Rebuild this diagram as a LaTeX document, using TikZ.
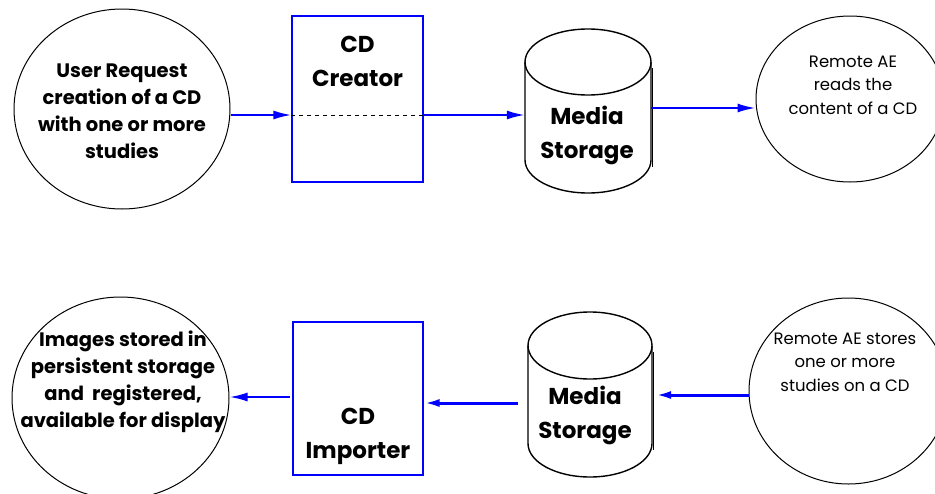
\documentclass[tikz,border=0pt]{standalone}
\usepackage{fontspec}
\setmainfont{Poppins}
\usetikzlibrary{shapes.geometric,arrows.meta}
\begin{document}
\begin{tikzpicture}[x=1pt,y=-1pt,
  oval/.style={ellipse,draw=black,line width=1pt,inner sep=0pt},
  procbox/.style={rectangle,draw=blue,line width=1.3pt,inner sep=0pt},
  holder/.style={rectangle,inner sep=0pt},
  cyl/.style={draw=black,line width=1.4pt},
  ovaltxt/.style={align=center,font=\bfseries\fontsize{19.5}{27}\selectfont},
  bigtxt/.style={align=center,font=\bfseries\fontsize{23}{34}\selectfont},
  thintxt/.style={align=center,font=\fontsize{16.5}{23.5}\selectfont},
  flow/.style={draw=blue,line width=2pt,-{Latex[length=18pt,width=9pt]}},
  heavyflow/.style={draw=blue,line width=3pt,-{Latex[length=16pt,width=8pt]}},
]
\useasboundingbox (0,0) rectangle (935,493);

% ---- top row ----
\node[oval,minimum width=216pt,minimum height=200pt] (ureq) at (122,109) {};
\node[ovaltxt] (ureqt) at (122,111) {User Request\\creation of a CD\\with one or more\\studies};

\node[procbox,minimum width=131pt,minimum height=166pt] (creator) at (357.5,99) {};
\node[bigtxt] (creatort) at (357.5,61.5) {CD\\Creator};

\node[holder,minimum width=126pt,minimum height=164pt] (ms1) at (588,111) {};
\draw[cyl] (525,62) -- (525,160) arc[start angle=180,end angle=360,x radius=63pt,y radius=33pt] -- (651,62);
\draw[cyl] (588,62) ellipse [x radius=63pt,y radius=33pt];
\draw[cyl,line width=1.8pt] (652.5,68) -- (652.5,167);
\node[bigtxt] (ms1t) at (587,135) {Media\\Storage};

\node[oval,minimum width=188pt,minimum height=166pt] (rread) at (850,99) {};
\node[thintxt] (rreadt) at (853,85) {Remote AE\\reads the\\content of a CD};

\coordinate (ya) at (0,115);
\coordinate (yb) at (0,108);
\draw[flow] (ureq.east |- ya) -- (creator.west |- ya);
\draw[black,line width=1pt,dashed,dash pattern=on 4pt off 4pt] (creator.west |- ya) -- (creator.east |- ya);
\draw[flow] (creator.east |- ya) -- (ms1.west |- ya);
\draw[flow] (ms1.east |- yb) -- (rread.west |- yb);

% ---- bottom row ----
\node[oval,minimum width=217pt,minimum height=202pt] (imgs) at (120.5,398) {};
\node[ovaltxt] (imgst) at (123,382) {Images stored in\\persistent storage\\and\ \ registered,\\available for display};

\node[procbox,minimum width=130pt,minimum height=153pt] (importer) at (358,398.5) {};
\node[bigtxt] (importert) at (358,436) {CD\\Importer};

\node[holder,minimum width=124pt,minimum height=165pt] (ms2) at (590,394.5) {};
\draw[cyl] (528,345.5) -- (528,443.5) arc[start angle=180,end angle=360,x radius=62pt,y radius=33.5pt] -- (652,345.5);
\draw[cyl] (590,345.5) ellipse [x radius=62pt,y radius=33.5pt];
\draw[cyl,line width=1.8pt] (653.5,352) -- (653.5,450);
\node[bigtxt] (ms2t) at (585,415.5) {Media\\Storage};

\node[oval,minimum width=199pt,minimum height=186pt] (rstore) at (848.5,391) {};
\node[thintxt] (rstoret) at (845,362) {Remote AE stores\\one or more\\studies on a CD};

\coordinate (yc) at (0,397);
\coordinate (yd) at (0,403);
\coordinate (ye) at (0,395);
\draw[flow,shorten <=2.5pt] (importer.west |- yc) -- (imgs.east |- yc);
\draw[heavyflow,shorten <=10pt] (ms2.west |- yd) -- (importer.east |- yd);
\draw[heavyflow] (rstore.west |- ye) -- ([xshift=3pt]ms2.east |- ye);
\end{tikzpicture}
\end{document}
